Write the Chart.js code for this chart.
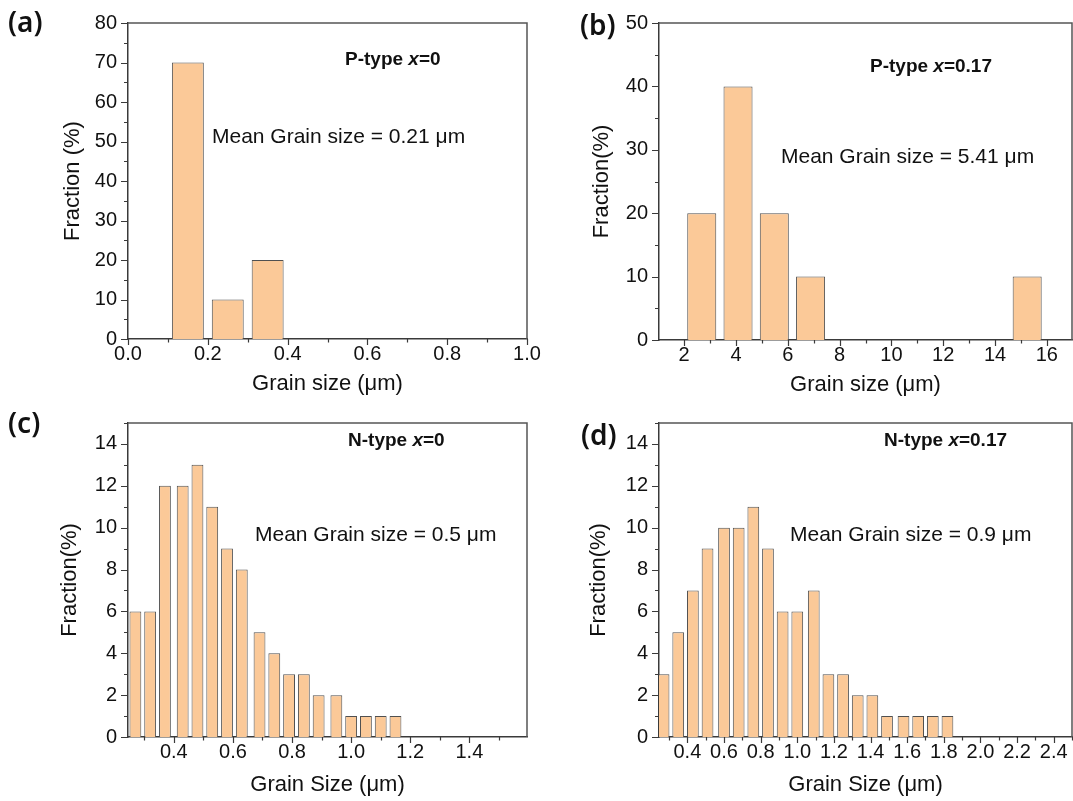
<!DOCTYPE html>
<html>
<head>
<meta charset="utf-8">
<script src="https://cdn.jsdelivr.net/npm/chart.js@4/dist/chart.umd.min.js"></script>
<style>
  html, body { margin: 0; padding: 0; background: #fff; }
  body { width: 1073px; height: 801px; position: relative; overflow: hidden; }
  .panel { position: absolute; }
</style>
</head>
<body>
<div class="panel" style="left:0;top:0;width:545px;height:400px"><canvas id="ca"></canvas></div>
<div class="panel" style="left:545px;top:0;width:528px;height:400px"><canvas id="cb"></canvas></div>
<div class="panel" style="left:0;top:400px;width:545px;height:401px"><canvas id="cc"></canvas></div>
<div class="panel" style="left:545px;top:400px;width:528px;height:401px"><canvas id="cd"></canvas></div>
<script>
// ---------- Data ----------
// (a) P-type x=0
const aSizes = [0.15, 0.25, 0.35];
const aFractions = [70, 10, 20];
// (b) P-type x=0.17
const bSizes = [2.68, 4.08, 5.48, 6.88, 15.24];
const bFractions = [20, 40, 20, 10, 10];
// (c) N-type x=0
const cSizes = [0.27, 0.32, 0.37, 0.43, 0.48, 0.53, 0.58, 0.63, 0.69, 0.74, 0.79, 0.84, 0.89, 0.95, 1.00, 1.05, 1.10, 1.15];
const cFractions = [6, 6, 12, 12, 13, 11, 9, 8, 5, 4, 3, 3, 2, 2, 1, 1, 1, 1];
// (d) N-type x=0.17
const dSizes = [0.27, 0.35, 0.43, 0.51, 0.60, 0.68, 0.76, 0.84, 0.92, 1.00, 1.09, 1.17, 1.25, 1.33, 1.41, 1.49, 1.58, 1.66, 1.74, 1.82];
const dFractions = [3, 5, 7, 9, 10, 10, 11, 9, 6, 6, 7, 3, 3, 2, 2, 1, 1, 1, 1, 1];

const panelLabels = ['(a)', '(b)', '(c)', '(d)'];
const typeLabels = [['P-type ', 'x', '=0'], ['P-type ', 'x', '=0.17'], ['N-type ', 'x', '=0'], ['N-type ', 'x', '=0.17']];
const meanLabels = ['Mean Grain size = 0.21 \u03BCm', 'Mean Grain size = 5.41 \u03BCm', 'Mean Grain size = 0.5 \u03BCm', 'Mean Grain size = 0.9 \u03BCm'];
const xTitles = ['Grain size (\u03BCm)', 'Grain size (\u03BCm)', 'Grain Size (\u03BCm)', 'Grain Size (\u03BCm)'];
const yTitles = ['Fraction (%)', 'Fraction(%)', 'Fraction(%)', 'Fraction(%)'];

// ---------- Styles ----------
const FONT = "'Liberation Sans', Arial, sans-serif";
const FILL = '#FBC998';
const EDGE = '#505050';
const AXIS = '#3a3a3a';

// plugin: frame (top/right), tick marks (major + minor), texts
const decor = {
  id: 'decor',
  afterDraw(chart, args, opts) {
    const ctx = chart.ctx;
    const a = chart.chartArea;
    ctx.save();
    // top & right frame
    ctx.strokeStyle = '#555';
    ctx.lineWidth = 1.5;
    ctx.beginPath();
    ctx.moveTo(a.left, a.top);
    ctx.lineTo(a.right, a.top);
    ctx.lineTo(a.right, a.bottom);
    ctx.stroke();
    // ticks
    ctx.strokeStyle = AXIS;
    ctx.lineWidth = 1.2;
    const drawTicks = (scale, horizontal) => {
      const vals = scale.ticks.map(t => t.value);
      if (vals.length < 2) return;
      const step = vals[1] - vals[0];
      const minors = [vals[0] - step / 2];
      vals.forEach(v => minors.push(v + step / 2));
      const lo = Math.min(scale.min, scale.max) - 1e-9, hi = Math.max(scale.min, scale.max) + 1e-9;
      ctx.beginPath();
      vals.forEach(v => {
        const p = Math.round(scale.getPixelForValue(v)) + 0.5;
        if (horizontal) { ctx.moveTo(p, a.bottom); ctx.lineTo(p, a.bottom + 6); }
        else { ctx.moveTo(a.left, p); ctx.lineTo(a.left - 7, p); }
      });
      minors.filter(v => v >= lo && v <= hi).forEach(v => {
        const p = Math.round(scale.getPixelForValue(v)) + 0.5;
        if (horizontal) { ctx.moveTo(p, a.bottom); ctx.lineTo(p, a.bottom + 3.5); }
        else { ctx.moveTo(a.left, p); ctx.lineTo(a.left - 4, p); }
      });
      ctx.stroke();
    };
    drawTicks(chart.scales.x, true);
    drawTicks(chart.scales.y, false);
    // panel label
    ctx.fillStyle = '#111';
    ctx.textBaseline = 'middle';
    ctx.textAlign = 'left';
    ctx.font = "600 28px 'Noto Sans', 'Open Sans', sans-serif";
    ctx.fillText(opts.panel, opts.panelX, opts.panelY);
    // type label (bold, italic x)
    let x = opts.typeX;
    const parts = opts.type;
    parts.forEach((p, i) => {
      ctx.font = (i === 1 ? 'italic bold 19px ' : 'bold 19px ') + FONT;
      ctx.fillText(p, x, opts.typeY);
      x += ctx.measureText(p).width;
    });
    // mean label
    ctx.font = '21px ' + FONT;
    ctx.fillText(opts.mean, opts.meanX, opts.meanY);
    ctx.restore();
  }
};

function makeChart(id, sizes, fractions, cfg) {
  const canvas = document.getElementById(id);
  return new Chart(canvas, {
    type: 'bar',
    data: {
      datasets: [{
        data: sizes.map((s, i) => ({ x: s, y: fractions[i] })),
        backgroundColor: FILL,
        borderColor: EDGE,
        borderWidth: 1,
        borderSkipped: 'bottom',
        barPercentage: 0.8,
        categoryPercentage: 1.0,
        clip: 0
      }]
    },
    options: {
      responsive: true,
      maintainAspectRatio: false,
      animation: false,
      events: [],
      layout: { padding: { left: 0, top: cfg.top, right: cfg.right, bottom: 0 } },
      plugins: {
        legend: { display: false },
        tooltip: { enabled: false },
        decor: cfg.decor
      },
      scales: {
        x: {
          type: 'linear',
          offset: false,
          min: cfg.xmin, max: cfg.xmax,
          grid: { display: false, drawTicks: false, tickLength: 0 },
          border: { display: true, color: AXIS, width: 1.5 },
          ticks: {
            stepSize: cfg.xstep,
            includeBounds: false,
            autoSkip: false,
            maxRotation: 0,
            padding: 3,
            color: '#111',
            font: { family: FONT, size: 20 },
            callback: v => cfg.xfmt(v)
          },
          title: {
            display: true, text: cfg.xTitle, color: '#111',
            font: { family: FONT, size: 22 },
            padding: { top: 0, bottom: cfg.xTitlePad }
          },
          afterFit: s => { s.height = cfg.xh; }
        },
        y: {
          type: 'linear',
          min: 0, max: cfg.ymax,
          grid: { display: false, drawTicks: false, tickLength: 0 },
          border: { display: true, color: AXIS, width: 1.5 },
          ticks: {
            stepSize: cfg.ystep,
            includeBounds: false,
            autoSkip: false,
            padding: 11,
            color: '#111',
            font: { family: FONT, size: 20 },
            callback: v => String(v)
          },
          title: {
            display: true, text: cfg.yTitle, color: '#111',
            font: { family: FONT, size: 22 },
            padding: { top: cfg.yTitlePad, bottom: 0 }
          },
          afterFit: s => { s.width = cfg.yw; }
        }
      }
    },
    plugins: [decor]
  });
}

makeChart('ca', aSizes, aFractions, {
  top: 19, right: 18, xh: 61, yw: 128,
  xmin: 0, xmax: 1, xstep: 0.2, xfmt: v => v.toFixed(1),
  ymax: 80, ystep: 10,
  xTitle: xTitles[0], yTitle: yTitles[0], xTitlePad: 3, yTitlePad: 60,
  decor: { panel: panelLabels[0], panelX: 8, panelY: 24, type: typeLabels[0], typeX: 345, typeY: 60, mean: meanLabels[0], meanX: 212, meanY: 137 }
});
makeChart('cb', bSizes, bFractions, {
  top: 23, right: 1, xh: 60, yw: 114,
  xmin: 1.03, xmax: 16.97, xstep: 2, xfmt: v => String(Math.round(v)),
  ymax: 50, ystep: 10,
  xTitle: xTitles[1], yTitle: yTitles[1], xTitlePad: 2, yTitlePad: 44,
  decor: { panel: panelLabels[1], panelX: 35, panelY: 27, type: typeLabels[1], typeX: 325, typeY: 67, mean: meanLabels[1], meanX: 236, meanY: 157 }
});
makeChart('cc', cSizes, cFractions, {
  top: 9, right: 18, xh: 64, yw: 128,
  xmin: 0.245, xmax: 1.595, xstep: 0.2, xfmt: v => v.toFixed(1),
  ymax: 15, ystep: 2,
  xTitle: xTitles[2], yTitle: yTitles[2], xTitlePad: 3, yTitlePad: 57,
  decor: { panel: panelLabels[2], panelX: 8, panelY: 25, type: typeLabels[2], typeX: 348, typeY: 41, mean: meanLabels[2], meanX: 255, meanY: 135 }
});
makeChart('cd', dSizes, dFractions, {
  top: 9, right: 1, xh: 64, yw: 114,
  xmin: 0.245, xmax: 2.5, xstep: 0.2, xfmt: v => v.toFixed(1),
  ymax: 15, ystep: 2,
  xTitle: xTitles[3], yTitle: yTitles[3], xTitlePad: 3, yTitlePad: 41,
  decor: { panel: panelLabels[3], panelX: 36, panelY: 37, type: typeLabels[3], typeX: 339, typeY: 41, mean: meanLabels[3], meanX: 245, meanY: 135 }
});
</script>
</body>
</html>
